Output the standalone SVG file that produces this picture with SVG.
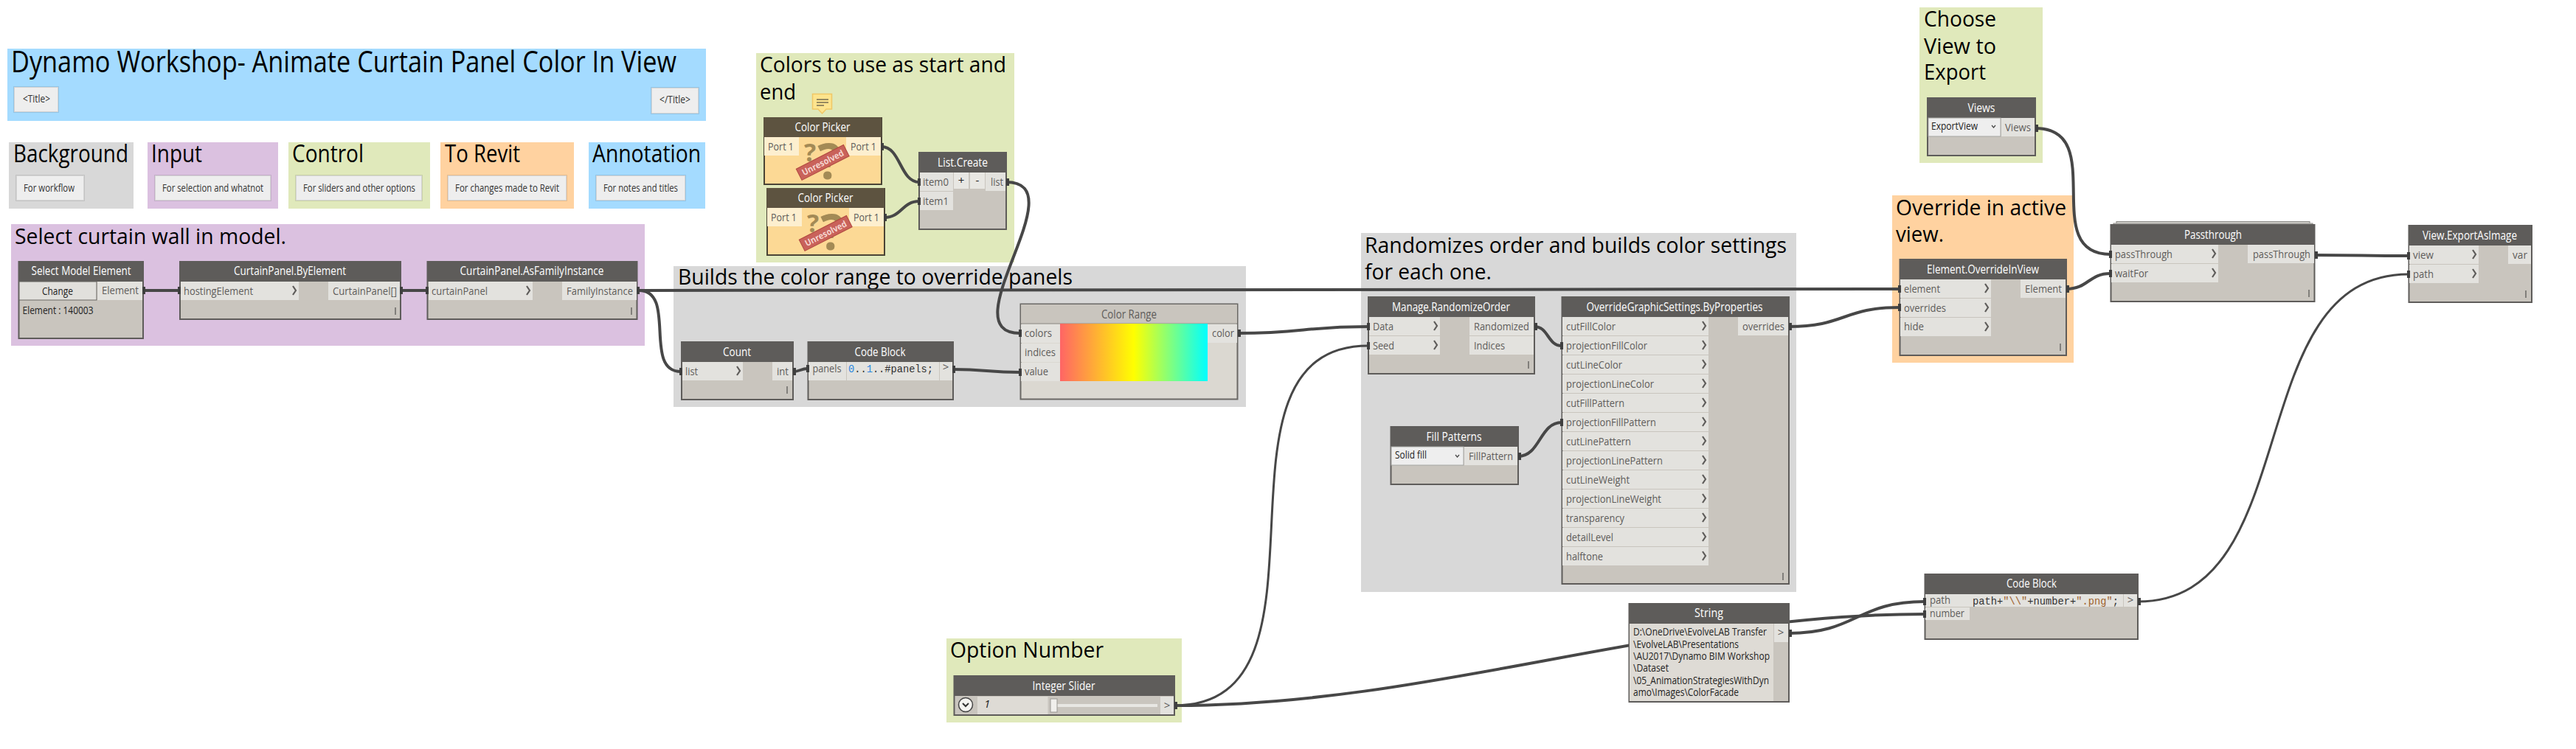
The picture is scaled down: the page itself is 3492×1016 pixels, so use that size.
<svg xmlns="http://www.w3.org/2000/svg" width="3492" height="1016" viewBox="0 0 3492 1016">
<style>
text{font-family:"Open Sans","Noto Sans","Liberation Sans",sans-serif}
.g1{font-size:40px;fill:#000}.g2{font-size:33px;fill:#000}.g3{font-size:30px;fill:#000}
.note{fill:#eeeeee;stroke:#000;stroke-opacity:.1;stroke-width:2}
.nt{font-size:15px;fill:#333}
.gray{fill:#d8d8d8}.pur{fill:#dbc1e0}.grn{fill:#e0e9bb}.org{fill:#ffd2a0}.blu{fill:#a4dbff}
.b{fill:#c9c5be;stroke:#5e5c5a;stroke-width:2}
.h{fill:#5e5c5a}.hw{fill:#5d5340}
.bw{fill:#fcd995;stroke:#4a4436;stroke-width:2}
.p{fill:#e3e2de}.pw{fill:#fdefcf}
.ht{font-size:16px;font-weight:500;fill:#fff;text-anchor:middle}
.pt{font-size:15px;fill:#5e5c5a}
.dk{font-size:15px;fill:#222}
.code{font-family:"Liberation Mono","DejaVu Sans Mono",monospace;font-size:15px;fill:#333}
.c{fill:none;stroke:#474747;stroke-width:4}
.t{stroke-width:3}
.n{fill:#3f3f3f}
.chev{fill:none;stroke:#5e5c5a;stroke-width:2.2}
.lace{fill:#6a6865}
.q{fill:#a38a55;font-weight:700;text-anchor:middle}
.ban{fill:#c9625a;stroke:#b0473f;stroke-width:1}
.bant{font-size:12px;font-weight:700;fill:#f5d5cf;text-anchor:middle}
</style>
<defs>
<path id="ch" class="chev" d="M-2,-6 L2,0 L-2,6"/>
<rect id="la" class="lace" x="-.75" y="-5" width="1.5" height="10"/>
<linearGradient id="rainbow"><stop offset="0" stop-color="#ff6565"/><stop offset=".5" stop-color="#ffff00"/><stop offset="1" stop-color="#00ffff"/></linearGradient>
</defs>

<g id="groups">
<g id="group-title"><rect class="blu" x="10" y="66" width="947" height="98"/><text class="g1" x="15" y="98" textLength="902" lengthAdjust="spacingAndGlyphs">Dynamo Workshop- Animate Curtain Panel Color In View</text></g>
<g id="group-background"><rect class="gray" x="12" y="193" width="169" height="90"/><text class="g2" x="18" y="220" textLength="156" lengthAdjust="spacingAndGlyphs">Background</text></g>
<g id="group-input"><rect class="pur" x="200" y="193" width="177" height="90"/><text class="g2" x="205" y="220" textLength="69" lengthAdjust="spacingAndGlyphs">Input</text></g>
<g id="group-control"><rect class="grn" x="391" y="193" width="192" height="90"/><text class="g2" x="396" y="220" textLength="97" lengthAdjust="spacingAndGlyphs">Control</text></g>
<g id="group-torevit"><rect class="org" x="597" y="193" width="181" height="90"/><text class="g2" x="603" y="220" textLength="102" lengthAdjust="spacingAndGlyphs">To Revit</text></g>
<g id="group-annotation"><rect class="blu" x="798" y="193" width="158" height="90"/><text class="g2" x="803" y="220" textLength="147" lengthAdjust="spacingAndGlyphs">Annotation</text></g>
<g id="group-select"><rect class="pur" x="15" y="304" width="859" height="165"/><text class="g3" x="20" y="331" textLength="368" lengthAdjust="spacingAndGlyphs">Select curtain wall in model.</text></g>
<g id="group-colors"><rect class="grn" x="1025" y="72" width="350" height="284"/><text class="g3" x="1030" y="98" textLength="334" lengthAdjust="spacingAndGlyphs">Colors to use as start and</text><text class="g3" x="1030" y="135" textLength="49" lengthAdjust="spacingAndGlyphs">end</text></g>
<g id="group-builds"><rect class="gray" x="913" y="361" width="776" height="191"/><text class="g3" x="919" y="386" textLength="535" lengthAdjust="spacingAndGlyphs">Builds the color range to override panels</text></g>
<g id="group-randomizes"><rect class="gray" x="1845" y="316" width="590" height="487"/><text class="g3" x="1850" y="343" textLength="572" lengthAdjust="spacingAndGlyphs">Randomizes order and builds color settings</text><text class="g3" x="1850" y="379" textLength="172" lengthAdjust="spacingAndGlyphs">for each one.</text></g>
<g id="group-choose"><rect class="grn" x="2602" y="10" width="167" height="211"/><text class="g3" x="2608" y="36" textLength="98" lengthAdjust="spacingAndGlyphs">Choose</text><text class="g3" x="2608" y="73" textLength="98" lengthAdjust="spacingAndGlyphs">View to</text><text class="g3" x="2608" y="108" textLength="84" lengthAdjust="spacingAndGlyphs">Export</text></g>
<g id="group-override"><rect class="org" x="2565" y="265" width="246" height="227"/><text class="g3" x="2570" y="292" textLength="231" lengthAdjust="spacingAndGlyphs">Override in active</text><text class="g3" x="2570" y="328" textLength="65" lengthAdjust="spacingAndGlyphs">view.</text></g>
<g id="group-option"><rect class="grn" x="1283" y="866" width="319" height="114"/><text class="g3" x="1288" y="892" textLength="208" lengthAdjust="spacingAndGlyphs">Option Number</text></g>
</g>

<g id="notes">
<g id="note-title-open"><rect class="note" x="19" y="118" width="60" height="34"/><text class="nt" x="31" y="139" textLength="37" lengthAdjust="spacingAndGlyphs">&lt;Title&gt;</text></g>
<g id="note-title-close"><rect class="note" x="883" y="119" width="64" height="35"/><text class="nt" x="894" y="140" textLength="42" lengthAdjust="spacingAndGlyphs">&lt;/Title&gt;</text></g>
<g id="note-background"><rect class="note" x="22" y="238" width="92" height="34"/><text class="nt" x="32" y="260" textLength="69" lengthAdjust="spacingAndGlyphs">For workflow</text></g>
<g id="note-input"><rect class="note" x="210" y="238" width="157" height="34"/><text class="nt" x="220" y="260" textLength="137" lengthAdjust="spacingAndGlyphs">For selection and whatnot</text></g>
<g id="note-control"><rect class="note" x="401" y="238" width="171" height="34"/><text class="nt" x="411" y="260" textLength="152" lengthAdjust="spacingAndGlyphs">For sliders and other options</text></g>
<g id="note-torevit"><rect class="note" x="607" y="238" width="161" height="34"/><text class="nt" x="617" y="260" textLength="141" lengthAdjust="spacingAndGlyphs">For changes made to Revit</text></g>
<g id="note-annotation"><rect class="note" x="808" y="238" width="121" height="34"/><text class="nt" x="818" y="260" textLength="101" lengthAdjust="spacingAndGlyphs">For notes and titles</text></g>
</g>

<g id="connectors">
<path class="c" d="M194,394 L243,394"/>
<path class="c" d="M543,394 L579,394"/>
<path class="c" d="M866,394 C918,394 871,504 923,504"/>
<path class="c" d="M866,394 L2575,392"/>
<path class="c" d="M1075,504 C1085,504 1085,500 1095,500"/>
<path class="c" d="M1292,501 C1337,501 1338,505 1383,505"/>
<path class="c" d="M1195,199 C1221,199 1220,247 1246,247"/>
<path class="c" d="M1199,295 C1222,295 1223,273 1246,273"/>
<path class="c" d="M1364,247 C1462,247 1285,452 1383,452"/>
<path class="c" d="M1678,452 C1767,452 1767,443 1855,443"/>
<path class="c t" d="M1592,957 C1832,957 1615,469 1855,469"/>
<path class="c" d="M1592,957 C1942,957 2259,833 2609,833"/>
<path class="c" d="M2080,443 C2099,443 2098,469 2117,469"/>
<path class="c" d="M2058,619 C2088,619 2087,573 2117,573"/>
<path class="c" d="M2425,443 C2501,443 2499,417 2575,417"/>
<path class="c" d="M2759,174 C2860,174 2762,345 2861,345"/>
<path class="c" d="M2801,392 C2831,392 2831,371 2861,371"/>
<path class="c" d="M3138,346 C3200,346 3203,347 3265,347"/>
<path class="c" d="M2425,859 C2517,859 2517,816 2609,816"/>
<path class="c t" d="M2898,816 C3128,816 3035,372 3265,372"/>
</g>

<g id="node-select-model-element">
<rect class="b" x="25.500" y="355" width="168.500" height="104"/><rect class="h" x="25" y="355" width="169" height="27"/>
<text class="ht" x="110" y="373" textLength="135" lengthAdjust="spacingAndGlyphs">Select Model Element</text>
<rect x="26" y="382" width="105" height="25" fill="#e1e0dc" stroke="#6a6865"/><text class="dk" x="78" y="400" text-anchor="middle" textLength="42" lengthAdjust="spacingAndGlyphs">Change</text>
<rect class="p" x="132" y="382" width="61" height="25"/><text class="pt" x="138" y="399" textLength="50" lengthAdjust="spacingAndGlyphs">Element</text>
<text class="dk" x="30.500" y="426" textLength="96" lengthAdjust="spacingAndGlyphs">Element : 140003</text>
<rect class="n" x="193" y="389" width="4" height="10"/>
</g>
<g id="node-curtainpanel-byelement">
<rect class="b" x="244" y="355" width="299" height="78"/><rect class="h" x="243" y="355" width="301" height="27"/>
<text class="ht" x="393" y="373" textLength="152" lengthAdjust="spacingAndGlyphs">CurtainPanel.ByElement</text>
<rect class="p" x="245" y="382" width="160" height="25"/><text class="pt" x="249" y="400" textLength="94" lengthAdjust="spacingAndGlyphs">hostingElement</text><use href="#ch" x="399" y="394"/>
<rect class="p" x="445" y="382" width="97" height="25"/><text class="pt" x="451" y="400" textLength="87" lengthAdjust="spacingAndGlyphs">CurtainPanel[]</text>
<use href="#la" x="536" y="422"/>
<rect class="n" x="241" y="389" width="4" height="10"/><rect class="n" x="542" y="389" width="4" height="10"/>
</g>
<g id="node-curtainpanel-asfamilyinstance">
<rect class="b" x="579.500" y="355" width="284" height="78"/><rect class="h" x="579" y="355" width="285" height="27"/>
<text class="ht" x="721" y="373" textLength="195" lengthAdjust="spacingAndGlyphs">CurtainPanel.AsFamilyInstance</text>
<rect class="p" x="581" y="382" width="141" height="25"/><text class="pt" x="585" y="400" textLength="76" lengthAdjust="spacingAndGlyphs">curtainPanel</text><use href="#ch" x="716" y="394"/>
<rect class="p" x="762" y="382" width="101" height="25"/><text class="pt" x="768" y="400" textLength="90" lengthAdjust="spacingAndGlyphs">FamilyInstance</text>
<use href="#la" x="856" y="422"/>
<rect class="n" x="577" y="389" width="4" height="10"/><rect class="n" x="863" y="389" width="4" height="10"/>
</g>

<g id="note-icon">
<path d="M1101.500,127.500 H1127.500 V148 H1120 L1114.500,154 L1109,148 H1101.500 Z" fill="#fde48e" stroke="#f0c766" stroke-width="1.500"/>
<path d="M1107,135 H1123 M1107,139 H1123 M1107,143 H1117" stroke="#333" stroke-width="1.200" fill="none"/>
</g>
<g id="node-color-picker-1">
<rect class="bw" x="1036" y="160" width="159" height="90"/><rect class="hw" x="1035" y="159" width="160" height="27"/>
<text class="ht" x="1115" y="178" textLength="75" lengthAdjust="spacingAndGlyphs">Color Picker</text>
<rect class="pw" x="1036" y="186" width="47" height="25"/><rect class="pw" x="1147" y="186" width="47" height="25"/>
<text class="pt" x="1041" y="204" textLength="35" lengthAdjust="spacingAndGlyphs">Port 1</text><text class="pt" x="1153" y="204" textLength="35" lengthAdjust="spacingAndGlyphs">Port 1</text>
<text class="q" x="1098" y="219" font-size="34">?</text><text class="q" x="1124" y="243" font-size="66">?</text>
<g transform="rotate(-27 1115 220)"><rect class="ban" x="1079" y="212" width="72" height="17"/><text class="bant" x="1115" y="225" textLength="62" lengthAdjust="spacingAndGlyphs">Unresolved</text></g>
<rect class="n" x="1194" y="194" width="4" height="10"/>
</g>
<g id="node-color-picker-2">
<rect class="bw" x="1040" y="256" width="159" height="90"/><rect class="hw" x="1039" y="255" width="160" height="27"/>
<text class="ht" x="1119" y="274" textLength="75" lengthAdjust="spacingAndGlyphs">Color Picker</text>
<rect class="pw" x="1040" y="282" width="47" height="25"/><rect class="pw" x="1151" y="282" width="47" height="25"/>
<text class="pt" x="1045" y="300" textLength="35" lengthAdjust="spacingAndGlyphs">Port 1</text><text class="pt" x="1157" y="300" textLength="35" lengthAdjust="spacingAndGlyphs">Port 1</text>
<text class="q" x="1102" y="315" font-size="34">?</text><text class="q" x="1128" y="339" font-size="66">?</text>
<g transform="rotate(-27 1119 316)"><rect class="ban" x="1083" y="308" width="72" height="17"/><text class="bant" x="1119" y="321" textLength="62" lengthAdjust="spacingAndGlyphs">Unresolved</text></g>
<rect class="n" x="1198" y="290" width="4" height="10"/>
</g>
<g id="node-list-create">
<rect class="b" x="1246" y="207" width="118" height="104"/><rect class="h" x="1245" y="207" width="120" height="27"/>
<text class="ht" x="1305" y="226" textLength="68" lengthAdjust="spacingAndGlyphs">List.Create</text>
<rect class="p" x="1247" y="234" width="45" height="25"/><rect class="p" x="1247" y="260" width="45" height="25"/><rect class="p" x="1336" y="234" width="27" height="25"/>
<rect x="1293" y="234" width="20" height="22" fill="#e8e7e3"/><rect x="1315" y="234" width="20" height="22" fill="#e8e7e3"/>
<text class="dk" x="1303" y="250" text-anchor="middle">+</text><text class="dk" x="1325" y="250" text-anchor="middle">-</text>
<text class="pt" x="1251" y="252" textLength="35" lengthAdjust="spacingAndGlyphs">item0</text><text class="pt" x="1251" y="278" textLength="35" lengthAdjust="spacingAndGlyphs">item1</text><text class="pt" x="1343" y="252" textLength="17" lengthAdjust="spacingAndGlyphs">list</text>
<rect class="n" x="1244" y="242" width="4" height="10"/><rect class="n" x="1244" y="268" width="4" height="10"/><rect class="n" x="1364" y="242" width="4" height="10"/>
</g>
<g id="node-count">
<rect class="b" x="924" y="464" width="151" height="78"/><rect class="h" x="923" y="464" width="153" height="27"/>
<text class="ht" x="999" y="483" textLength="38" lengthAdjust="spacingAndGlyphs">Count</text>
<rect class="p" x="925" y="491" width="82" height="25"/><text class="pt" x="929" y="509" textLength="17" lengthAdjust="spacingAndGlyphs">list</text><use href="#ch" x="1001" y="503"/>
<rect class="p" x="1047" y="491" width="27" height="25"/><text class="pt" x="1053" y="509" textLength="16" lengthAdjust="spacingAndGlyphs">int</text>
<use href="#la" x="1067" y="529"/>
<rect class="n" x="921" y="499" width="4" height="10"/><rect class="n" x="1075" y="499" width="4" height="10"/>
</g>
<g id="node-code-block-1">
<rect class="b" x="1095.500" y="464" width="196.500" height="78"/><rect class="h" x="1095" y="464" width="197" height="27"/>
<text class="ht" x="1193" y="483" textLength="69" lengthAdjust="spacingAndGlyphs">Code Block</text>
<rect class="p" x="1096" y="491" width="51" height="25"/><text class="pt" x="1101.500" y="505" textLength="39" lengthAdjust="spacingAndGlyphs">panels</text>
<rect x="1148" y="491" width="125" height="25" fill="#e3e2de"/>
<text class="code" x="1150" y="505" textLength="115" lengthAdjust="spacingAndGlyphs"><tspan fill="#2b86df">0</tspan>..<tspan fill="#2b86df">1</tspan>..#panels;</text>
<rect class="p" x="1274" y="491" width="17" height="25"/><text class="pt" x="1282" y="503" text-anchor="middle">&gt;</text>
<rect class="n" x="1093" y="495" width="4" height="10"/><rect class="n" x="1291" y="496" width="4" height="10"/>
</g>
<g id="node-color-range">
<rect x="1383.500" y="412.500" width="294" height="129" fill="#dbd8d1" stroke="#6a6865" stroke-width="2"/><rect x="1384" y="413" width="293" height="26" fill="#c9c5be"/>
<path d="M1384,439 H1677" stroke="#8a8884" stroke-width="1"/>
<text x="1530.500" y="431.500" font-size="16" fill="#5e5c5a" text-anchor="middle" textLength="75" lengthAdjust="spacingAndGlyphs">Color Range</text>
<rect x="1437" y="439" width="200" height="78" fill="url(#rainbow)"/>
<rect class="p" x="1384" y="440" width="53" height="25"/><rect class="p" x="1384" y="466" width="53" height="25"/><rect class="p" x="1384" y="492" width="53" height="25"/><rect class="p" x="1637" y="440" width="40" height="25"/>
<text class="pt" x="1389" y="457" textLength="37" lengthAdjust="spacingAndGlyphs">colors</text><text class="pt" x="1389" y="483" textLength="42" lengthAdjust="spacingAndGlyphs">indices</text><text class="pt" x="1389" y="509" textLength="32" lengthAdjust="spacingAndGlyphs">value</text><text class="pt" x="1643" y="457" textLength="30" lengthAdjust="spacingAndGlyphs">color</text>
<rect class="n" x="1381" y="447" width="4" height="10"/><rect class="n" x="1381" y="500" width="4" height="10"/><rect class="n" x="1678" y="447" width="4" height="10"/>
</g>
<g id="node-randomize-order">
<rect class="b" x="1855" y="403" width="225" height="104"/><rect class="h" x="1854" y="403" width="227" height="27"/>
<text class="ht" x="1967" y="422" textLength="160" lengthAdjust="spacingAndGlyphs">Manage.RandomizeOrder</text>
<rect class="p" x="1856" y="430" width="96" height="25"/><rect class="p" x="1856" y="456" width="96" height="25"/><rect class="p" x="1992" y="430" width="87" height="25"/><rect class="p" x="1992" y="456" width="87" height="25"/>
<text class="pt" x="1861" y="448" textLength="28" lengthAdjust="spacingAndGlyphs">Data</text><text class="pt" x="1861" y="474" textLength="29" lengthAdjust="spacingAndGlyphs">Seed</text><text class="pt" x="1998" y="448" textLength="75" lengthAdjust="spacingAndGlyphs">Randomized</text><text class="pt" x="1998" y="474" textLength="42" lengthAdjust="spacingAndGlyphs">Indices</text>
<use href="#ch" x="1946" y="442"/><use href="#ch" x="1946" y="468"/><use href="#la" x="2072" y="495"/>
<rect class="n" x="1853" y="438" width="4" height="10"/><rect class="n" x="1853" y="464" width="4" height="10"/><rect class="n" x="2080" y="438" width="4" height="10"/>
</g>
<g id="node-override-settings">
<rect class="b" x="2117.500" y="403" width="307.500" height="389"/><rect class="h" x="2117" y="403" width="309" height="27"/>
<text class="ht" x="2270" y="422" textLength="239" lengthAdjust="spacingAndGlyphs">OverrideGraphicSettings.ByProperties</text>
<rect class="p" x="2118" y="430" width="198" height="25"/><rect class="p" x="2118" y="456" width="198" height="25"/><rect class="p" x="2118" y="482" width="198" height="25"/><rect class="p" x="2118" y="508" width="198" height="25"/><rect class="p" x="2118" y="534" width="198" height="25"/><rect class="p" x="2118" y="560" width="198" height="25"/><rect class="p" x="2118" y="586" width="198" height="25"/><rect class="p" x="2118" y="612" width="198" height="25"/><rect class="p" x="2118" y="638" width="198" height="25"/><rect class="p" x="2118" y="664" width="198" height="25"/><rect class="p" x="2118" y="690" width="198" height="25"/><rect class="p" x="2118" y="716" width="198" height="25"/><rect class="p" x="2118" y="742" width="198" height="25"/>
<text class="pt" x="2123" y="448" textLength="67" lengthAdjust="spacingAndGlyphs">cutFillColor</text>
<text class="pt" x="2123" y="474" textLength="110" lengthAdjust="spacingAndGlyphs">projectionFillColor</text>
<text class="pt" x="2123" y="500" textLength="76" lengthAdjust="spacingAndGlyphs">cutLineColor</text>
<text class="pt" x="2123" y="526" textLength="119" lengthAdjust="spacingAndGlyphs">projectionLineColor</text>
<text class="pt" x="2123" y="552" textLength="79" lengthAdjust="spacingAndGlyphs">cutFillPattern</text>
<text class="pt" x="2123" y="578" textLength="122" lengthAdjust="spacingAndGlyphs">projectionFillPattern</text>
<text class="pt" x="2123" y="604" textLength="88" lengthAdjust="spacingAndGlyphs">cutLinePattern</text>
<text class="pt" x="2123" y="630" textLength="131" lengthAdjust="spacingAndGlyphs">projectionLinePattern</text>
<text class="pt" x="2123" y="656" textLength="86" lengthAdjust="spacingAndGlyphs">cutLineWeight</text>
<text class="pt" x="2123" y="682" textLength="129" lengthAdjust="spacingAndGlyphs">projectionLineWeight</text>
<text class="pt" x="2123" y="708" textLength="79" lengthAdjust="spacingAndGlyphs">transparency</text>
<text class="pt" x="2123" y="734" textLength="64" lengthAdjust="spacingAndGlyphs">detailLevel</text>
<text class="pt" x="2123" y="760" textLength="50" lengthAdjust="spacingAndGlyphs">halftone</text>
<use href="#ch" x="2310" y="442"/><use href="#ch" x="2310" y="468"/><use href="#ch" x="2310" y="494"/><use href="#ch" x="2310" y="520"/><use href="#ch" x="2310" y="546"/><use href="#ch" x="2310" y="572"/><use href="#ch" x="2310" y="598"/><use href="#ch" x="2310" y="624"/><use href="#ch" x="2310" y="650"/><use href="#ch" x="2310" y="676"/><use href="#ch" x="2310" y="702"/><use href="#ch" x="2310" y="728"/><use href="#ch" x="2310" y="754"/>
<rect class="p" x="2356" y="430" width="68" height="25"/><text class="pt" x="2362" y="448" textLength="57" lengthAdjust="spacingAndGlyphs">overrides</text>
<use href="#la" x="2417" y="782"/>
<rect class="n" x="2115" y="464" width="4" height="10"/><rect class="n" x="2115" y="568" width="4" height="10"/><rect class="n" x="2425" y="438" width="4" height="10"/>
</g>
<g id="node-fill-patterns">
<rect class="b" x="1885.500" y="579" width="172.500" height="78"/><rect class="h" x="1885" y="579" width="173" height="27"/>
<text class="ht" x="1971" y="598" textLength="75" lengthAdjust="spacingAndGlyphs">Fill Patterns</text>
<rect x="1886" y="606" width="98" height="25" fill="#eeeeee" stroke="#a5a5a2"/><text class="dk" x="1891" y="622" textLength="43" lengthAdjust="spacingAndGlyphs">Solid fill</text>
<path d="M1973,617 L1975.500,620 L1978,617" fill="none" stroke="#444" stroke-width="1.200"/>
<rect class="p" x="1985" y="606" width="72" height="25"/><text class="pt" x="1991" y="624" textLength="60" lengthAdjust="spacingAndGlyphs">FillPattern</text>
<rect class="n" x="2058" y="614" width="4" height="10"/>
</g>
<g id="node-views">
<rect class="b" x="2613" y="133" width="146" height="78"/><rect class="h" x="2612" y="133" width="148" height="27"/>
<text class="ht" x="2686" y="152" textLength="37" lengthAdjust="spacingAndGlyphs">Views</text>
<rect x="2614" y="160" width="98" height="25" fill="#eeeeee" stroke="#a5a5a2"/><text class="dk" x="2618" y="176" textLength="63" lengthAdjust="spacingAndGlyphs">ExportView</text>
<path d="M2700,170 L2702.500,173 L2705,170" fill="none" stroke="#444" stroke-width="1.200"/>
<rect class="p" x="2713" y="160" width="45" height="25"/><text class="pt" x="2718" y="178" textLength="35" lengthAdjust="spacingAndGlyphs">Views</text>
<rect class="n" x="2759" y="169" width="4" height="10"/>
</g>
<g id="node-override-in-view">
<rect class="b" x="2575.500" y="352" width="225.500" height="130"/><rect class="h" x="2575" y="352" width="227" height="27"/>
<text class="ht" x="2688" y="371" textLength="152" lengthAdjust="spacingAndGlyphs">Element.OverrideInView</text>
<rect class="p" x="2576" y="379" width="123" height="25"/><rect class="p" x="2576" y="405" width="123" height="25"/><rect class="p" x="2576" y="431" width="123" height="25"/><rect class="p" x="2739" y="379" width="61" height="25"/>
<text class="pt" x="2581" y="397" textLength="49" lengthAdjust="spacingAndGlyphs">element</text><text class="pt" x="2581" y="423" textLength="57" lengthAdjust="spacingAndGlyphs">overrides</text><text class="pt" x="2581" y="448" textLength="27" lengthAdjust="spacingAndGlyphs">hide</text><text class="pt" x="2745" y="397" textLength="50" lengthAdjust="spacingAndGlyphs">Element</text>
<use href="#ch" x="2693" y="391"/><use href="#ch" x="2693" y="417"/><use href="#ch" x="2693" y="443"/><use href="#la" x="2793" y="471"/>
<rect class="n" x="2573" y="387" width="4" height="10"/><rect class="n" x="2573" y="412" width="4" height="10"/><rect class="n" x="2801" y="387" width="4" height="10"/>
</g>
<g id="node-passthrough">
<rect x="2869" y="300.500" width="262" height="8" fill="#d8d7d3" stroke="#8a8884"/><rect x="2865" y="303" width="270" height="6" fill="#d8d7d3" stroke="#8a8884"/>
<rect class="b" x="2861.500" y="305" width="276" height="104"/><rect class="h" x="2861" y="305" width="277" height="27"/>
<text class="ht" x="3000" y="324" textLength="78" lengthAdjust="spacingAndGlyphs">Passthrough</text>
<rect class="p" x="2862" y="332" width="145" height="25"/><rect class="p" x="2862" y="358" width="145" height="25"/><rect class="p" x="3047" y="332" width="90" height="25"/>
<text class="pt" x="2867" y="350" textLength="78" lengthAdjust="spacingAndGlyphs">passThrough</text><text class="pt" x="2867" y="376" textLength="45" lengthAdjust="spacingAndGlyphs">waitFor</text><text class="pt" x="3054" y="350" textLength="78" lengthAdjust="spacingAndGlyphs">passThrough</text>
<use href="#ch" x="3001" y="344"/><use href="#ch" x="3001" y="370"/><use href="#la" x="3130" y="398"/>
<rect class="n" x="2859" y="340" width="4" height="10"/><rect class="n" x="2859" y="366" width="4" height="10"/><rect class="n" x="3138" y="341" width="4" height="10"/>
</g>
<g id="node-export-image">
<rect class="b" x="3265.500" y="306" width="166.500" height="104"/><rect class="h" x="3265" y="306" width="168" height="27"/>
<text class="ht" x="3348" y="325" textLength="128" lengthAdjust="spacingAndGlyphs">View.ExportAsImage</text>
<rect class="p" x="3266" y="333" width="94" height="25"/><rect class="p" x="3266" y="359" width="94" height="25"/><rect class="p" x="3400" y="333" width="31" height="25"/>
<text class="pt" x="3271" y="351" textLength="28" lengthAdjust="spacingAndGlyphs">view</text><text class="pt" x="3271" y="377" textLength="28" lengthAdjust="spacingAndGlyphs">path</text><text class="pt" x="3406" y="351" textLength="20" lengthAdjust="spacingAndGlyphs">var</text>
<use href="#ch" x="3354" y="345"/><use href="#ch" x="3354" y="371"/><use href="#la" x="3424" y="399"/>
<rect class="n" x="3263" y="342" width="4" height="10"/><rect class="n" x="3263" y="367" width="4" height="10"/>
</g>
<g id="node-integer-slider">
<rect class="b" x="1293.500" y="917" width="298.500" height="53"/><rect class="h" x="1293" y="917" width="299" height="27"/>
<text class="ht" x="1442" y="936" textLength="85" lengthAdjust="spacingAndGlyphs">Integer Slider</text>
<ellipse cx="1309" cy="956" rx="9.500" ry="9.500" fill="#f5f4f1" stroke="#444" stroke-width="1.500"/><path d="M1305,954 L1309,958 L1313,954" fill="none" stroke="#333" stroke-width="2"/>
<rect x="1325" y="945" width="95.500" height="24" fill="#dedbd5"/><text class="dk" x="1334" y="960" font-style="italic">1</text>
<rect x="1428" y="955" width="141" height="4" fill="#e8e7e3"/><rect x="1424" y="948" width="9" height="18" fill="#f0efec" stroke="#9a9894"/>
<rect class="p" x="1573" y="945" width="18" height="24"/><text class="pt" x="1582" y="962" text-anchor="middle">&gt;</text>
<rect class="n" x="1592" y="952" width="4" height="10"/>
</g>
<g id="node-string">
<rect class="b" x="2208.500" y="819" width="216.500" height="133"/><rect class="h" x="2208" y="819" width="218" height="27"/>
<text class="ht" x="2316.500" y="837" textLength="39" lengthAdjust="spacingAndGlyphs">String</text>
<rect x="2209" y="846" width="195" height="105" fill="#dedbd5"/>
<rect class="p" x="2405" y="846" width="19" height="25"/><text class="pt" x="2414" y="863" text-anchor="middle">&gt;</text>
<text class="dk" x="2214" y="862" textLength="181" lengthAdjust="spacingAndGlyphs">D:\OneDrive\EvolveLAB Transfer</text>
<text class="dk" x="2214" y="878.500" textLength="143" lengthAdjust="spacingAndGlyphs">\EvolveLAB\Presentations</text>
<text class="dk" x="2214" y="895" textLength="185" lengthAdjust="spacingAndGlyphs">\AU2017\Dynamo BIM Workshop</text>
<text class="dk" x="2214" y="911" textLength="48" lengthAdjust="spacingAndGlyphs">\Dataset</text>
<text class="dk" x="2214" y="927.500" textLength="184" lengthAdjust="spacingAndGlyphs">\05_AnimationStrategiesWithDyn</text>
<text class="dk" x="2214" y="944" textLength="143" lengthAdjust="spacingAndGlyphs">amo\Images\ColorFacade</text>
<rect class="n" x="2425" y="854" width="4" height="10"/>
</g>
<g id="node-code-block-2">
<rect class="b" x="2609.500" y="779" width="288.500" height="88"/><rect class="h" x="2609" y="779" width="290" height="27"/>
<text class="ht" x="2754" y="797" textLength="68" lengthAdjust="spacingAndGlyphs">Code Block</text>
<rect class="p" x="2610" y="806" width="268" height="17"/><rect class="p" x="2610" y="824" width="60" height="17"/><rect class="p" x="2879" y="806" width="18" height="17"/>
<text class="pt" x="2616" y="819" textLength="28" lengthAdjust="spacingAndGlyphs">path</text><text class="pt" x="2616" y="837" textLength="47" lengthAdjust="spacingAndGlyphs">number</text>
<text class="code" x="2674" y="820" textLength="198" lengthAdjust="spacingAndGlyphs">path+<tspan fill="#a0622d">"\\"</tspan>+number+<tspan fill="#a0622d">".png"</tspan>;</text>
<text class="pt" x="2888" y="819" text-anchor="middle">&gt;</text>
<rect class="n" x="2607" y="811" width="4" height="10"/><rect class="n" x="2607" y="828" width="4" height="10"/><rect class="n" x="2898" y="811" width="4" height="10"/>
</g>
</svg>
